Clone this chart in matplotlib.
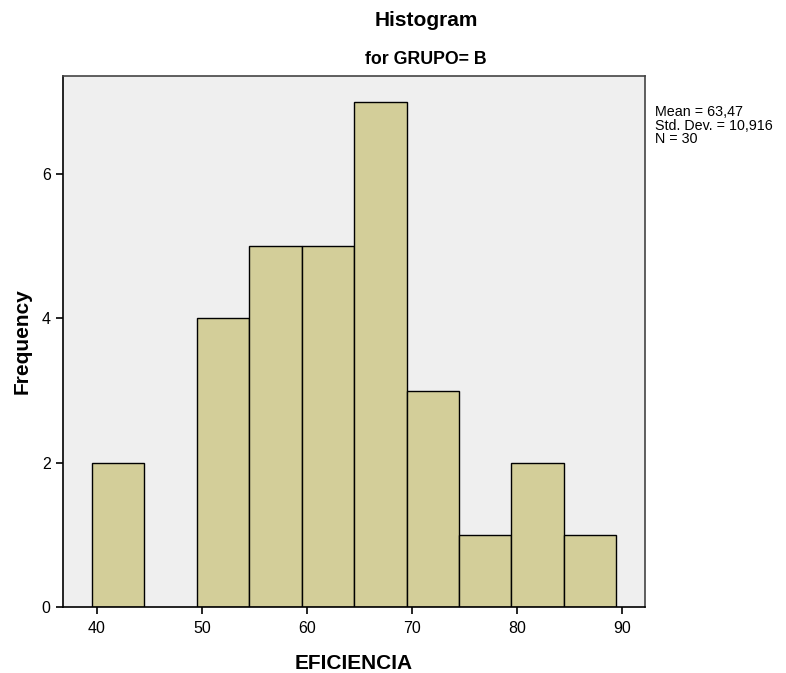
import matplotlib
matplotlib.use('Agg')
import matplotlib.pyplot as plt
import numpy as np

plt.rcParams['font.family'] = ['Liberation Sans', 'DejaVu Sans']

# Datos del histograma (GRUPO = B)
bin_edges = [39.5, 44.5, 49.5, 54.5, 59.5, 64.5, 69.5, 74.5, 79.5, 84.5, 89.5]
counts = [2, 0, 4, 5, 5, 7, 3, 1, 2, 1]
x_ticks = [40, 50, 60, 70, 80, 90]
y_ticks = [0, 2, 4, 6]
stats_lines = ['Mean = 63,47', 'Std. Dev. = 10,916', 'N = 30']

fig = plt.figure(figsize=(7.86, 6.73), dpi=100)
ax = fig.add_axes([62.5 / 786, 1 - 606.7 / 673, (645 - 62.5) / 786, (606.7 - 75.6) / 673])

ax.set_facecolor('#efefef')
lefts = np.array(bin_edges[:-1])
widths = np.diff(bin_edges)
for l, w, c in zip(lefts, widths, counts):
    if c > 0:
        ax.bar(l, c, width=w, align='edge', color='#d3ce99',
               edgecolor='black', linewidth=1.0, zorder=2)

ax.set_xlim(36.72, 92.22)
ax.set_ylim(0, 7.37)
ax.set_xticks(x_ticks)
ax.set_yticks(y_ticks)
ax.tick_params(direction='out', length=5, width=1.2, labelsize=11.5, colors='black')
ax.tick_params(axis='x', pad=5)

for s in ['left', 'bottom']:
    ax.spines[s].set_color('black')
    ax.spines[s].set_linewidth(1.2)
for s in ['top', 'right']:
    ax.spines[s].set_color('#444444')
    ax.spines[s].set_linewidth(1.2)

ax.set_xlabel('EFICIENCIA', fontsize=15, fontweight='bold', labelpad=13)
ax.set_ylabel('Frequency', fontsize=15, fontweight='bold', labelpad=7)

fig.text(426 / 786, 1 - 20 / 673, 'Histogram', ha='center', va='center',
         fontsize=15, fontweight='bold')
fig.text(426 / 786, 1 - 60 / 673, 'for GRUPO= B', ha='center', va='center',
         fontsize=12.8, fontweight='bold')

fig.text(655 / 786, 1 - 105 / 673, '\n'.join(stats_lines), ha='left', va='top',
         fontsize=10.3, linespacing=0.97)

fig.savefig('out.png', dpi=100)
